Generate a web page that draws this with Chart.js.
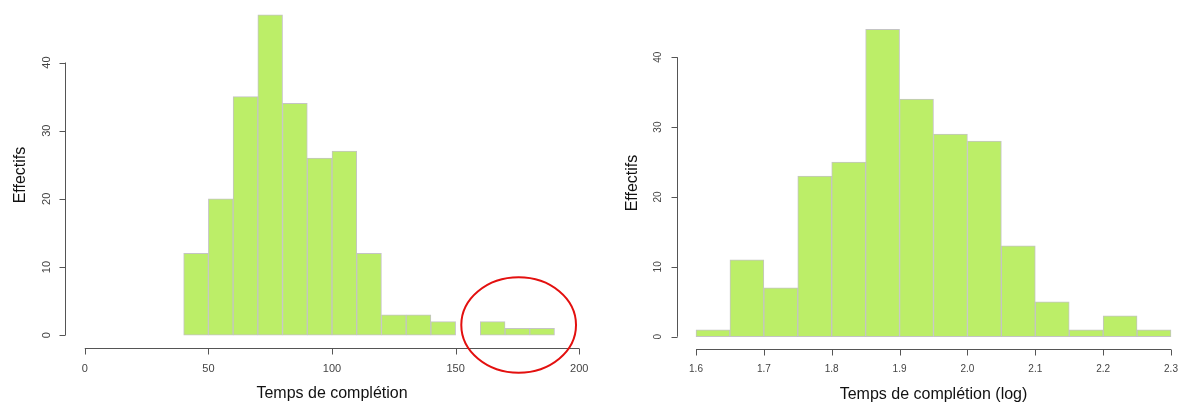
<!DOCTYPE html>
<html>
<head>
<meta charset="utf-8">
<script src="https://cdn.jsdelivr.net/npm/chart.js@4/dist/chart.umd.min.js"></script>
<style>
    html, body { margin: 0; padding: 0; background: #fff; overflow: hidden; width: 1181px; height: 403px; }
    .box { position: absolute; top: 0; width: 600px; height: 403px; }
</style>
</head>
<body>
<div class="box" style="left:0"><canvas id="hist-brut"></canvas></div>
<div class="box" style="left:590px"><canvas id="hist-log"></canvas></div>
<script>
// Histogramme 1 : temps de complétion bruts (classes de 10)
const bornesBrut = [40, 50, 60, 70, 80, 90, 100, 110, 120, 130, 140, 150, 160, 170, 180, 190];
const effectifsBrut = [12, 20, 35, 47, 34, 26, 27, 12, 3, 3, 2, 0, 2, 1, 1];
const ticksXBrut = [0, 50, 100, 150, 200];
const ticksYBrut = [0, 10, 20, 30, 40];

// Histogramme 2 : log du temps (classes de 0.05)
const bornesLog = [1.60, 1.65, 1.70, 1.75, 1.80, 1.85, 1.90, 1.95, 2.00, 2.05, 2.10, 2.15, 2.20, 2.25, 2.30];
const effectifsLog = [1, 11, 7, 23, 25, 44, 34, 29, 28, 13, 5, 1, 3, 1];
const ticksXLog = ['1.6', '1.7', '1.8', '1.9', '2.0', '2.1', '2.2', '2.3'];
const ticksYLog = [0, 10, 20, 30, 40];

// Ellipse rouge de mise en évidence (valeurs en unités du graphique)
const ellipseQueue = { x: 175.5, y: 1.5, rx: 23.2, ry: 7.0 };

const VERT = '#BCEE68';
const BORD = '#C4C4C4';
const POLICE = '"Liberation Sans", Arial, sans-serif';

// Axes façon R : axes détachés, étiquettes Y tournées
const axesR = {
    id: 'axesR',
    afterDraw(chart, args, opts) {
        const ctx = chart.ctx;
        const xs = chart.scales.x;
        const ys = chart.scales.y;
        const area = chart.chartArea;
        ctx.save();
        ctx.strokeStyle = '#555';
        ctx.fillStyle = '#444';
        ctx.lineWidth = 1;

        // axe Y
        const xa = Math.round(area.left) + 0.5;
        const yBas = ys.getPixelForValue(opts.yTicks[0]);
        const yHaut = ys.getPixelForValue(opts.yTicks[opts.yTicks.length - 1]);
        ctx.beginPath();
        ctx.moveTo(xa, yBas);
        ctx.lineTo(xa, yHaut);
        opts.yTicks.forEach(v => {
            const py = Math.round(ys.getPixelForValue(v)) + 0.5;
            ctx.moveTo(xa, py);
            ctx.lineTo(xa - 6, py);
        });
        ctx.stroke();
        ctx.font = opts.tickSize + 'px ' + POLICE;
        ctx.textAlign = 'center';
        ctx.textBaseline = 'middle';
        opts.yTicks.forEach(v => {
            const py = ys.getPixelForValue(v);
            ctx.save();
            ctx.translate(xa - 19, py);
            ctx.rotate(-Math.PI / 2);
            ctx.fillText(String(v), 0, 0);
            ctx.restore();
        });

        // axe X
        const ya = Math.round(area.bottom) + 0.5;
        const xg = xs.getPixelForValue(Number(opts.xTicks[0]));
        const xd = xs.getPixelForValue(Number(opts.xTicks[opts.xTicks.length - 1]));
        ctx.beginPath();
        ctx.moveTo(xg, ya);
        ctx.lineTo(xd, ya);
        opts.xTicks.forEach(v => {
            const px = Math.round(xs.getPixelForValue(Number(v))) + 0.5;
            ctx.moveTo(px, ya);
            ctx.lineTo(px, ya + 6);
        });
        ctx.stroke();
        opts.xTicks.forEach(v => {
            ctx.fillText(String(v), xs.getPixelForValue(Number(v)), ya + 20);
        });

        // titres, centrés sur la zone de tracé comme dans R
        ctx.fillStyle = '#111';
        ctx.font = opts.titleSize + 'px ' + POLICE;
        ctx.fillText(opts.xTitle, (area.left + area.right) / 2, ya + 45);
        ctx.save();
        ctx.translate(xa - 45, (area.top + area.bottom) / 2);
        ctx.rotate(-Math.PI / 2);
        ctx.fillText(opts.yTitle, 0, 0);
        ctx.restore();

        // ellipse rouge éventuelle
        if (opts.ellipse) {
            const e = opts.ellipse;
            const cx = xs.getPixelForValue(e.x);
            const cy = ys.getPixelForValue(e.y);
            const rx = Math.abs(xs.getPixelForValue(e.x + e.rx) - cx);
            const ry = Math.abs(ys.getPixelForValue(e.y + e.ry) - cy);
            ctx.strokeStyle = '#E3100F';
            ctx.lineWidth = 2;
            ctx.beginPath();
            ctx.ellipse(cx, cy, rx, ry, 0, 0, Math.PI * 2);
            ctx.stroke();
        }
        ctx.restore();
    }
};

function creerHistogramme(canvas, bornes, effectifs, cfg) {
    const points = effectifs.map((n, i) => ({ x: (bornes[i] + bornes[i + 1]) / 2, y: n }));
    return new Chart(canvas, {
        type: 'bar',
        data: {
            datasets: [{
                data: points,
                backgroundColor: VERT,
                borderColor: BORD,
                borderWidth: 1,
                borderSkipped: false,
                barPercentage: 1,
                categoryPercentage: 1
            }]
        },
        options: {
            responsive: true,
            maintainAspectRatio: false,
            animation: false,
            layout: { padding: cfg.padding },
            scales: {
                x: { type: 'linear', display: false, offset: false, min: cfg.xMin, max: cfg.xMax },
                y: { display: false, min: cfg.yMin, max: cfg.yMax }
            },
            plugins: {
                legend: { display: false },
                tooltip: { enabled: false },
                axesR: cfg.axes
            }
        },
        plugins: [axesR]
    });
}

creerHistogramme(document.getElementById('hist-brut'), bornesBrut, effectifsBrut, {
    padding: { left: 65, right: 1, top: 2, bottom: 55 },
    xMin: -8, xMax: 208, yMin: -1.88, yMax: 48.88,
    axes: {
        xTicks: ticksXBrut, yTicks: ticksYBrut,
        xTitle: 'Temps de complétion', yTitle: 'Effectifs',
        tickSize: 11, titleSize: 16, ellipse: ellipseQueue
    }
});

creerHistogramme(document.getElementById('hist-log'), bornesLog, effectifsLog, {
    padding: { left: 87, right: 0, top: 17, bottom: 54 },
    xMin: 1.572, xMax: 2.328, yMin: -1.76, yMax: 45.76,
    axes: {
        xTicks: ticksXLog, yTicks: ticksYLog,
        xTitle: 'Temps de complétion (log)', yTitle: 'Effectifs',
        tickSize: 10, titleSize: 16, ellipse: null
    }
});
</script>
</body>
</html>
